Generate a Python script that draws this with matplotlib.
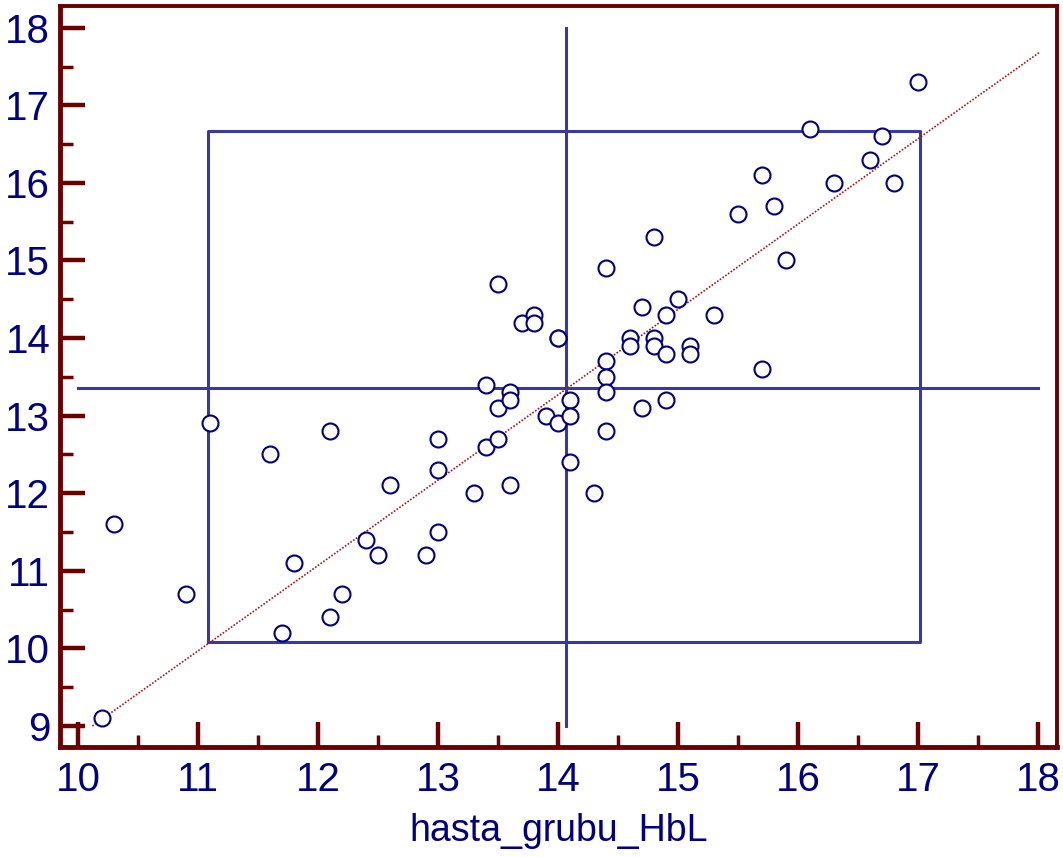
import matplotlib
matplotlib.use("Agg")
import matplotlib.pyplot as plt
from matplotlib.ticker import MultipleLocator

plt.rcParams['font.family'] = ['Liberation Sans', 'DejaVu Sans']

# hasta_grubu_HbL vs second measurement
x = [10.2, 10.3, 10.9, 11.1, 11.6, 11.7, 11.8, 12.1, 12.1, 12.2,
     12.4, 12.5, 12.6, 12.9, 13.0, 13.0, 13.0, 13.3, 13.4, 13.4,
     13.5, 13.5, 13.5, 13.6, 13.6, 13.6, 13.7, 13.8, 13.8, 13.9,
     14.0, 14.0, 14.0, 14.1, 14.1, 14.1, 14.3, 14.4, 14.4, 14.4,
     14.4, 14.4, 14.6, 14.6, 14.7, 14.7, 14.8, 14.8, 14.8, 14.9,
     14.9, 14.9, 15.0, 15.1, 15.1, 15.3, 15.5, 15.7, 15.7, 15.8,
     15.9, 16.1, 16.3, 16.6, 16.7, 16.8, 17.0]
y = [9.1, 11.6, 10.7, 12.9, 12.5, 10.2, 11.1, 12.8, 10.4, 10.7,
     11.4, 11.2, 12.1, 11.2, 12.7, 12.3, 11.5, 12.0, 13.4, 12.6,
     14.7, 13.1, 12.7, 13.3, 13.2, 12.1, 14.2, 14.3, 14.2, 13.0,
     14.0, 14.0, 12.9, 13.2, 13.0, 12.4, 12.0, 14.9, 13.7, 13.5,
     13.3, 12.8, 14.0, 13.9, 14.4, 13.1, 15.3, 14.0, 13.9, 14.3,
     13.8, 13.2, 14.5, 13.9, 13.8, 14.3, 15.6, 16.1, 13.6, 15.7,
     15.0, 16.7, 16.0, 16.3, 16.6, 16.0, 17.3]

# means and +/- 2 SD limits
x_mean, y_mean = 14.07, 13.36
x_lo, x_hi = 11.08, 17.02
y_lo, y_hi = 10.08, 16.67

# fitted line end points
fit_x = [10.12, 18.02]
fit_y = [9.0, 17.69]

spine_col = '#6a0000'
text_col = '#000080'
ref_col = '#3a3a9e'

fig = plt.figure(figsize=(10.63, 8.57), dpi=100)
ax = fig.add_axes([0.0564, 0.1284, 0.938, 0.8646])

ax.plot([x_mean, x_mean], [9, 18], color=ref_col, lw=2.2, zorder=2)
ax.plot([10, 18], [y_mean, y_mean], color=ref_col, lw=2.2, zorder=2)
ax.plot([x_lo, x_hi, x_hi, x_lo, x_lo], [y_lo, y_lo, y_hi, y_hi, y_lo],
        color=ref_col, lw=2.2, zorder=2)
ax.plot(fit_x, fit_y, color='#a01818', lw=1.2, ls=(0, (1, 1)), zorder=3)
ax.plot(x, y, 'o', ms=11.5, mfc='white', mec='#000080', mew=1.5, zorder=4)

ax.set_xlim(9.85, 18.16)
ax.set_ylim(8.73, 18.28)
ax.xaxis.set_major_locator(MultipleLocator(1))
ax.xaxis.set_minor_locator(MultipleLocator(0.5))
ax.yaxis.set_major_locator(MultipleLocator(1))
ax.yaxis.set_minor_locator(MultipleLocator(0.5))

for side, sp in ax.spines.items():
    sp.set_color(spine_col)
    sp.set_linewidth(3.5 if side in ('left', 'bottom') else 2.8)

ax.tick_params(which='major', direction='in', length=18, width=3.2,
               color=spine_col, labelcolor=text_col, labelsize=29, pad=10)
ax.tick_params(which='minor', direction='in', length=9, width=2.5,
               color=spine_col)
ax.tick_params(axis='y', pad=7)

ax.set_xlabel('hasta_grubu_HbL', fontsize=27, color=text_col, labelpad=10)

fig.savefig('out.png', dpi=100)
